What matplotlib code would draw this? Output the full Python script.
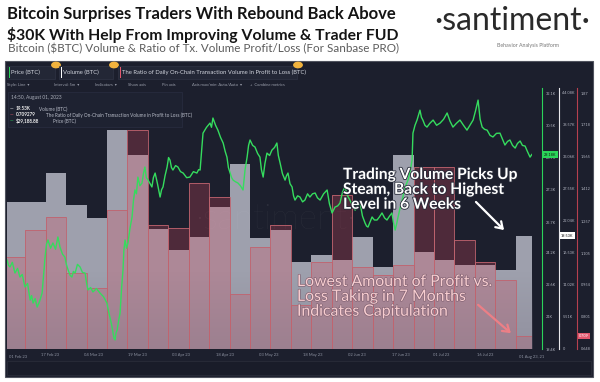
import numpy as np
import matplotlib.pyplot as plt
from matplotlib import patheffects as pe
from matplotlib import transforms
from matplotlib.patches import Rectangle, FancyArrowPatch

# ---- data ----
week_dates = ['2023-02-05', '2023-02-12', '2023-02-19', '2023-02-26', '2023-03-05',
              '2023-03-12', '2023-03-19', '2023-03-26', '2023-04-02', '2023-04-09',
              '2023-04-16', '2023-04-23', '2023-04-30', '2023-05-07', '2023-05-14',
              '2023-05-21', '2023-05-28', '2023-06-04', '2023-06-11', '2023-06-18',
              '2023-06-25', '2023-07-02', '2023-07-09', '2023-07-16', '2023-07-23',
              '2023-07-30']
volume_k = [25.3, 25.3, 30.3, 24.8, 22.6, 37.7, 33.4, 20.7, 17.1, 19.3,
            24.5, 31.9, 19.1, 20.5, 15.0, 16.2, 15.3, 19.3, 14.1, 33.4,
            16.7, 15.3, 14.5, 14.5, 13.6, 19.53]
ratio = [1.087, 1.216, 1.278, 1.011, 0.939, 1.311, 1.693, 1.240, 1.226, 1.440,
         1.373, 0.911, 1.135, 1.240, 0.858, 1.063, 1.383, 1.039, 1.001, 1.049,
         1.517, 1.517, 1.168, 1.063, 0.977, 0.709]

# price: days after 01 Feb 2023, BTC price in thousands
price_day = [1.3, 1.8, 2.3, 3.1, 4.0, 4.9, 5.7, 6.5, 7.4, 8.3, 9.2, 9.7, 10.2, 10.9, 11.6,
             12.4, 13.3, 13.8, 14.3, 14.8, 15.3, 16.2, 17.0, 17.9, 18.7, 19.1, 19.4, 20.3,
             21.1, 21.6, 22.2, 22.9, 23.5, 24.0, 24.6, 25.4, 26.3, 27.1, 28.0, 28.5, 29.0,
             29.9, 30.7, 31.9, 33.1, 34.3, 35.5, 36.0, 36.5, 37.1, 37.6, 37.9, 38.3, 38.6,
             39.0, 39.5, 40.0, 40.5, 41.0, 41.3, 41.7, 42.2, 42.7, 43.4, 44.1, 44.6, 45.1,
             45.6, 46.1, 46.8, 47.5, 48.0, 48.5, 49.0, 49.6, 50.3, 50.9, 51.4, 52.0, 52.8,
             53.7, 54.2, 54.7, 55.4, 56.1, 56.6, 57.1, 57.6, 58.1, 59.0, 59.8, 60.7, 61.6,
             62.8, 63.9, 65.1, 66.3, 66.9, 67.4, 67.9, 68.4, 69.6, 70.8, 71.3, 71.8, 72.7,
             73.5, 74.4, 75.3, 76.0, 76.6, 77.1, 77.7, 78.2, 78.7, 79.5, 80.4, 81.2, 82.1,
             82.8, 83.5, 84.0, 84.5, 85.4, 86.2, 87.1, 87.9, 88.4, 89.0, 89.6, 90.3, 91.2,
             92.0, 92.9, 93.7, 94.2, 94.8, 95.6, 96.5, 97.0, 97.5, 98.2, 98.9, 99.4, 99.9,
             100.8, 101.6, 102.5, 103.3, 104.2, 105.0, 105.9, 106.8, 107.6, 108.5, 109.7,
             110.9, 111.7, 112.6, 113.1, 113.6, 114.5, 115.3, 116.2, 117.0, 117.9, 118.7,
             119.6, 120.5, 121.3, 122.2, 123.0, 123.9, 124.4, 124.9, 125.6, 126.3, 127.1,
             128.0, 128.8, 129.7, 130.6, 131.4, 132.3, 133.1, 133.6, 134.2, 134.7, 135.2,
             135.9, 136.6, 137.1, 137.6, 138.1, 138.6, 139.3, 140.0, 140.3, 141.0, 141.7,
             142.2, 142.7, 143.2, 143.7, 144.4, 145.1, 146.1, 147.2, 148.4, 149.6, 150.8,
             152.0, 153.0, 154.0, 155.2, 156.4, 157.6, 158.8, 159.8, 160.9, 161.7, 162.6,
             163.3, 164.0, 164.8, 165.7, 166.7, 167.7, 168.9, 170.1, 171.0, 171.8, 172.7,
             173.5, 174.4, 175.3, 176.1, 177.0, 177.8, 178.7, 179.5, 180.4, 181.0]
price_k = [23.81, 23.55, 23.47, 23.70, 23.17, 23.40, 22.97, 23.10, 22.48, 22.65, 21.83, 22.05,
           21.68, 21.90, 21.48, 21.75, 22.18, 23.10, 23.96, 24.60, 24.81, 24.40, 24.66, 24.35,
           24.96, 24.70, 24.46, 24.10, 23.96, 23.60, 23.32, 23.05, 22.97, 23.25, 23.17, 23.60,
           23.47, 23.20, 23.17, 22.70, 22.33, 22.45, 22.23, 22.40, 22.18, 22.00, 21.68, 21.30,
           20.99, 20.60, 20.19, 19.95, 19.85, 20.20, 20.34, 20.80, 21.19, 22.40, 23.32, 24.30,
           24.81, 24.40, 24.66, 25.40, 25.95, 26.80, 27.29, 27.10, 27.93, 27.50, 27.63, 28.10,
           28.43, 27.90, 27.78, 27.60, 27.44, 27.90, 28.13, 27.60, 26.94, 27.30, 27.44, 28.00,
           28.43, 28.90, 28.77, 28.40, 28.28, 28.50, 28.43, 28.20, 28.13, 27.90, 27.93, 28.20,
           28.13, 28.30, 28.28, 29.20, 30.11, 30.40, 30.61, 30.40, 30.86, 30.50, 30.26, 29.90,
           29.62, 29.20, 28.92, 28.40, 28.13, 27.90, 27.78, 27.70, 27.63, 27.50, 27.29, 28.30,
           28.92, 29.50, 29.77, 29.50, 29.42, 29.10, 28.92, 28.30, 27.93, 28.60, 29.12, 29.00,
           29.27, 29.40, 29.62, 29.00, 28.63, 28.10, 27.78, 28.00, 28.13, 27.60, 27.44, 27.00,
           26.79, 27.00, 26.94, 26.70, 26.79, 27.10, 26.94, 27.10, 27.14, 26.90, 26.79, 27.10,
           27.29, 26.60, 26.15, 26.30, 26.44, 26.50, 26.64, 27.20, 27.44, 27.00, 26.79, 26.50,
           26.29, 26.50, 26.64, 26.00, 25.65, 25.50, 25.45, 25.70, 25.95, 25.80, 25.80, 25.95,
           26.15, 25.90, 25.80, 26.00, 26.15, 25.70, 25.30, 25.60, 25.95, 26.40, 26.79, 27.10,
           27.44, 27.60, 27.78, 28.20, 28.77, 30.11, 30.50, 30.76, 31.00, 31.25, 30.90, 30.76,
           30.50, 30.41, 30.60, 30.76, 30.50, 30.61, 30.80, 31.11, 30.70, 30.41, 30.60, 30.76,
           30.50, 30.26, 30.50, 30.76, 31.20, 31.75, 30.80, 30.41, 30.30, 30.26, 30.00, 29.92,
           30.10, 30.11, 29.80, 29.52, 29.70, 29.77, 29.50, 29.37, 29.60, 29.72, 29.50, 29.47,
           29.20, 28.92, 29.05]

tick_dates = ['2023-02-17', '2023-03-04', '2023-03-19', '2023-04-03', '2023-04-18',
              '2023-05-03', '2023-05-18', '2023-06-02', '2023-06-17', '2023-07-01',
              '2023-07-16']
volume_ticks = [0, 5.51, 11.02, 16.53, 22.04, 27.55, 33.06, 38.57, 44.08]
ratio_ticks = [0.648, 0.801, 0.954, 1.105, 1.257, 1.412, 1.565, 1.718, 1.87]
price_ticks = [19.4, 21.0, 22.6, 24.2, 25.7, 27.3, 28.9, 30.5, 32.1]

# ---- helpers ----
t0 = np.datetime64('2023-02-01')
week_x = (np.array(week_dates, dtype='datetime64[D]') - t0).astype(float)
tick_x = (np.array(tick_dates, dtype='datetime64[D]') - t0).astype(float)
tick_lab = [np.datetime64(d).astype(object).strftime('%d %b 23') for d in tick_dates]

W, H = 600, 382
def fx(px): return px / W
def fy(py): return 1 - py / H

BG = '#1c1f2d'
plt.rcParams['font.family'] = ['Lato', 'DejaVu Sans']

fig = plt.figure(figsize=(6, 3.82), dpi=100)
fig.patch.set_facecolor('white')

# header
fig.text(fx(7), fy(14), 'Bitcoin Surprises Traders With Rebound Back Above',
         fontsize=12, fontweight='bold', color='#141414', va='center')
fig.text(fx(7), fy(35), '$30K With Help From Improving Volume & Trader FUD',
         fontsize=11.3, fontweight='bold', color='#141414', va='center')
fig.text(fx(8), fy(49), 'Bitcoin ($BTC) Volume & Ratio of Tx. Volume Profit/Loss (For Sanbase PRO)',
         fontsize=8.4, color='#5c5c5c', va='center')
fig.text(fx(512), fy(21), '\u00b7santiment\u00b7', fontsize=23,
         color='#2a2a2a', va='center', ha='center')
fig.text(fx(528), fy(45), 'Behavior Analysis Platform', fontsize=3.8,
         color='#777777', va='center', ha='center')

# dark panel
fig.add_artist(Rectangle((fx(5), fy(377)), fx(593) - fx(5), fy(61) - fy(377),
                         transform=fig.transFigure, facecolor=BG,
                         edgecolor='#50535e', lw=0.8, zorder=0))
# navigator strip
fig.add_artist(Rectangle((fx(7), fy(375)), fx(591) - fx(7), fy(361) - fy(375),
                         transform=fig.transFigure, facecolor='#191c29',
                         edgecolor='#2c2f3c', lw=0.5, zorder=0))

# toolbar
tb = dict(fontsize=4.2, color='#d0d3dc', va='center')
for x0, x1, lab, col in [(7, 55, 'Price (BTC)', '#2bd45a'),
                         (59, 113, 'Volume (BTC)', '#ffffff'),
                         (118, 297, 'The Ratio of Daily On-Chain Transaction Volume in Profit to Loss (BTC)', '#e2586e')]:
    fig.add_artist(Rectangle((fx(x0), fy(79)), fx(x1) - fx(x0), fy(66) - fy(79),
                             transform=fig.transFigure, facecolor='#232736',
                             edgecolor='#33374a', lw=0.4))
    fig.add_artist(Rectangle((fx(x0 + 1.5), fy(78)), fx(1.2), fy(67) - fy(78),
                             transform=fig.transFigure, facecolor=col, lw=0))
    fig.text(fx(x0 + 4), fy(72.5), lab, **tb)
    fig.add_artist(plt.Circle((fx(x1 + 1), fy(65)), 0.007, transform=fig.transFigure,
                              color='#f2b33d'))
tb2 = dict(fontsize=3, color='#9a9eab', va='center')
for x, lab in [(7, 'Style: Line  \u25be'), (54, 'Interval: 5m  \u25be'), (95, 'Indicators  \u25be'),
               (128, 'Show axis'), (162, 'Pin axis'), (192, 'Axis max/min: Auto/Auto  \u25be'),
               (250, '+  Combine metrics')]:
    fig.text(fx(x), fy(85), lab, **tb2)

# ---- main plot ----
ax = fig.add_axes([fx(7), fy(349), fx(532) - fx(7), fy(88) - fy(349)])
ax.set_facecolor(BG)
ax.bar(week_x, volume_k, width=7, color='#c4c6d2', alpha=0.78, lw=0, zorder=1)

axr = ax.twinx()
axr.bar(week_x, ratio, width=7, color='#d8485e', alpha=0.27, lw=0, zorder=1)
# soft fade towards the bottom, as in the Sanbase histogram fill
fade = np.zeros((64, 2, 4))
fade[..., 0], fade[..., 1], fade[..., 2] = 0.46, 0.43, 0.50
fade[..., 3] = np.linspace(0.0, 0.3, 64)[:, None]
axr.imshow(fade, extent=[0, 1, 0, 0.3], transform=axr.transAxes, aspect='auto',
           origin='upper', zorder=1.5)
axr.bar(week_x, ratio, width=7, fill=False, edgecolor='#c0646f', lw=0.6, zorder=2)

axp = ax.twinx()
axp.plot(price_day, price_k, color='#35dc5e', lw=1.0, zorder=3)

ax.set_xlim(1.27, 181.07)
ax.set_ylim(0, 44.94)
axr.set_ylim(0.648, 1.894)
axp.set_ylim(19.4, 32.35)

# watermark
ax.text(0.51, 0.5, '\u00b7santiment\u00b7', transform=ax.transAxes, fontsize=25,
        fontweight='light', color='white', alpha=0.07, ha='center', va='center', zorder=2)

# right hand axis columns
for a, pos, col, ticks, fmt in [
        (axp, 1.019, '#2bd45a', price_ticks, lambda v: f'{v:g}K'),
        (ax, 1.0514, '#e8e8ec', volume_ticks, lambda v: '0' if v == 0 else f'{v:g}K'),
        (axr, 1.0857, '#b5404f', ratio_ticks, lambda v: f'{v:g}')]:
    for s in ['top', 'left', 'bottom']:
        a.spines[s].set_visible(False)
    a.yaxis.tick_right()
    a.spines['right'].set_position(('axes', pos))
    a.spines['right'].set_color(col)
    a.spines['right'].set_linewidth(0.8)
    a.set_yticks(ticks)
    a.set_yticklabels([fmt(v) for v in ticks])
    a.tick_params(axis='y', length=0, pad=2.5, labelsize=2.8, labelcolor='#b0b3bf')
    a.spines['right'].set_zorder(5)

ax.set_xticks(tick_x)
ax.set_xticklabels(tick_lab)
ax.tick_params(axis='x', length=0, pad=3, labelsize=3, labelcolor='#8e93a2')
axr.tick_params(axis='x', bottom=False, labelbottom=False)
axp.tick_params(axis='x', bottom=False, labelbottom=False)
ax.text(0.004, -0.022, '01 Feb 23', transform=ax.transAxes, fontsize=3, color='#8e93a2',
        va='top')
ax.text(1.0, -0.022, '01 Aug 23, 21', transform=ax.transAxes, fontsize=3, color='#8e93a2',
        va='top', ha='center')

# current value boxes
for a, pos, v, lab, fc, tc in [(axp, 1.019, price_k[-1], '29.18K', '#2bd45a', '#0d1a10'),
                               (ax, 1.0514, volume_k[-1], '19.53K', '#ffffff', '#111111'),
                               (axr, 1.0857, ratio[-1], '0.709', '#e2586e', '#ffffff')]:
    tr = transforms.blended_transform_factory(a.transAxes, a.transData)
    a.text(pos + 0.004, v, lab, transform=tr, fontsize=2.8, color=tc, va='center',
           ha='left', bbox=dict(boxstyle='square,pad=0.3', fc=fc, ec='none'),
           clip_on=False, zorder=10)

# legend box
fig.add_artist(Rectangle((fx(8), fy(127)), fx(182) - fx(8), fy(92) - fy(127),
                         transform=fig.transFigure, facecolor='#1f2332', alpha=0.85,
                         edgecolor='#30344a', lw=0.4, zorder=4))
fig.text(fx(11), fy(98), '14:50, August 01, 2023', fontsize=3.5, color='#a9adb9', va='center', zorder=5)
for y, val, lab, col in [(109, '19.53K', 'Volume (BTC)', '#ffffff'),
                         (115, '0.709279', 'The Ratio of Daily On-Chain Transaction Volume in Profit to Loss (BTC)', '#e2586e'),
                         (121, '$29,188.88', 'Price (BTC)', '#2bd45a')]:
    fig.text(fx(10), fy(y), '\u2014', fontsize=3.3, color=col, va='center', zorder=5)
    fig.text(fx(16), fy(y), val, fontsize=3.3, color='#f0f0f0', fontweight='bold', va='center', zorder=5)
    fig.text(fx(17 + 3.6 * len(val)), fy(y), lab, fontsize=3.3, color='#b8bcc8', va='center', zorder=5)

# annotations
fig.text(fx(343), fy(168), 'Trading Volume Picks Up\nSteam, Back to Highest\nLevel in 6 Weeks',
         fontsize=11.2, fontweight='bold', color='white', va='top', ha='left',
         linespacing=1.08, zorder=6,
         path_effects=[pe.withStroke(linewidth=1.2, foreground='#262a38')])
fig.text(fx(297), fy(275), 'Lowest Amount of Profit vs.\nLoss Taking in 7 Months\nIndicates Capitulation',
         fontsize=11.4, color='#f7cdd0', va='top', ha='left', linespacing=1.08, zorder=6,
         path_effects=[pe.withStroke(linewidth=0.9, foreground='#806070')])
fig.add_artist(FancyArrowPatch((fx(474), fy(200)), (fx(506), fy(232)), transform=fig.transFigure,
                               arrowstyle='->,head_length=4.5,head_width=3', color='white',
                               lw=1.6, zorder=6))
fig.add_artist(FancyArrowPatch((fx(476), fy(303)), (fx(513), fy(335)), transform=fig.transFigure,
                               arrowstyle='->,head_length=4.5,head_width=3', color='#ec7f86',
                               lw=1.6, zorder=6))

fig.savefig('out.png', dpi=100)
